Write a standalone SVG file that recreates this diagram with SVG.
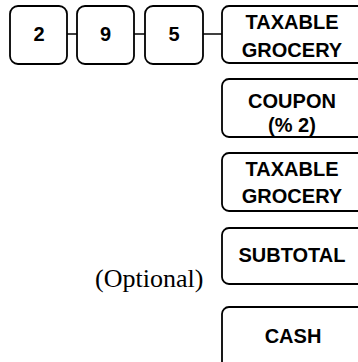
<svg xmlns="http://www.w3.org/2000/svg" width="358" height="362" viewBox="0 0 358 362">
<style>
.key{fill:#fff;stroke:#000;stroke-width:1.8}
.lbl{font-family:"Liberation Sans",Arial,sans-serif;font-weight:bold;font-size:20px;text-anchor:middle;fill:#000}
.conn{stroke:#000;stroke-width:1.5;fill:none}
.note{font-family:"Liberation Serif","Times New Roman",serif;font-size:26px;fill:#000}
</style>
<rect width="358" height="362" fill="#fff"/>
<g id="connectors">
<line class="conn" x1="67" y1="34" x2="77" y2="34"/>
<line class="conn" x1="134" y1="34" x2="145" y2="34"/>
<line class="conn" x1="203" y1="34" x2="222" y2="34"/>
</g>
<g id="key-2"><rect class="key" x="10" y="6" width="57" height="58" rx="8"/><text class="lbl" x="39" y="41">2</text></g>
<g id="key-9"><rect class="key" x="77" y="6" width="57" height="58" rx="8"/><text class="lbl" x="105.5" y="41">9</text></g>
<g id="key-5"><rect class="key" x="145" y="6" width="58" height="58" rx="8"/><text class="lbl" x="174" y="41">5</text></g>
<g id="key-taxable1"><rect class="key" x="222" y="6" width="160" height="57" rx="7"/><text class="lbl" x="292" y="29">TAXABLE</text><text class="lbl" x="292" y="57">GROCERY</text></g>
<g id="key-coupon"><rect class="key" x="222" y="79" width="160" height="58" rx="7"/><text class="lbl" x="292" y="108">COUPON</text><text class="lbl" x="292" y="132">(% 2)</text></g>
<g id="key-taxable2"><rect class="key" x="222" y="153" width="160" height="58" rx="7"/><text class="lbl" x="292" y="176">TAXABLE</text><text class="lbl" x="292" y="203">GROCERY</text></g>
<g id="key-subtotal"><rect class="key" x="222" y="228" width="160" height="56" rx="7"/><text class="lbl" x="292" y="262">SUBTOTAL</text></g>
<g id="key-cash"><rect class="key" x="222" y="307" width="160" height="70" rx="7"/><text class="lbl" x="293" y="343">CASH</text></g>
<g id="optional"><text class="note" x="95" y="287">(Optional)</text></g>
</svg>
